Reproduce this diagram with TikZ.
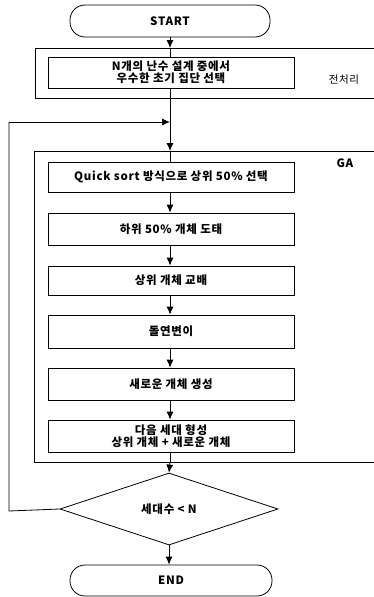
\documentclass[tikz,border=0pt]{standalone}
\usepackage{fontspec}
\setmainfont{Noto Sans CJK KR}
\newfontfamily\kr{Noto Sans CJK KR}[LetterSpace=6]
\usetikzlibrary{arrows.meta,shapes.geometric,calc}
\tikzset{
  every node/.style={font=\kr\fontsize{11.5}{13}\selectfont\bfseries, text=black},
  proc/.style={draw, line width=0.8pt, rectangle, minimum width=246pt, inner sep=0pt, align=center},
  term/.style={draw, line width=0.8pt, rectangle, rounded corners=15pt, inner sep=0pt},
  grp/.style={line width=0.8pt},
  arr/.style={line width=0.8pt, -{Latex[length=8pt,width=7pt]}},
  ln/.style={line width=0.8pt},
}
\begin{document}
\begin{tikzpicture}[x=1pt,y=-1pt]
\useasboundingbox (0,0) rectangle (374,597);
% group boxes (right edges lie outside the picture)
\draw[grp] (376,48) -- (35,48) -- (35,98) -- (376,98);
\draw[grp] (376,151) -- (34,151) -- (34,462) -- (376,462);
\coordinate (pretop) at (170,48);
\coordinate (prebot) at (170,98);
\coordinate (gatop) at (170,151);
\coordinate (gabot) at (170,462);
\coordinate (join) at (170,122);
\coordinate (lb) at (9,511);
\coordinate (lt) at (9,122);
\node[font=\kr\fontsize{10.5}{12}\selectfont] (prelbl) at (344,80) {전처리};
\node (galbl) at (345,163) {GA};

\node[term, minimum width=200pt, minimum height=32pt] (start) at (170,21) {START};
\node[proc, minimum height=31pt] (p0) at (171,72.5) {N개의 난수 설계 중에서\\[-1pt]우수한 초기 집단 선택};
\node[proc, minimum height=30pt] (b1) at (171,177) {Quick sort 방식으로 상위 50\% 선택};
\node[proc, minimum height=32pt] (b2) at (171,229) {하위 50\% 개체 도태};
\node[proc, minimum height=29pt] (b3) at (171,280.5) {상위 개체 교배};
\node[proc, minimum height=33pt] (b4) at (171,331.5) {돌연변이};
\node[proc, minimum height=32pt] (b5) at (171,384) {새로운 개체 생성};
\node[proc, minimum height=32pt] (b6) at (171,436) {다음 세대 형성\\[-1pt]상위 개체 + 새로운 개체};
\node[draw, line width=0.8pt, diamond, inner sep=0pt, minimum width=218pt, minimum height=72pt] (dec) at (169,509) {세대수 < N};
\node[term, minimum width=202pt, minimum height=31pt] (end) at (171,580.5) {END};

\draw[arr] (start.south) -- (pretop);
\draw[ln] (pretop) -- (p0.north -| pretop);
\draw[ln] (p0.south -| pretop) -- (prebot);
\draw[arr] (prebot) -- (gatop);
\draw[ln] (gatop) -- (b1.north -| gatop);
\draw[arr] (b1.south -| gatop) -- (b2.north -| gatop);
\draw[arr] (b2.south -| gatop) -- (b3.north -| gatop);
\draw[arr] (b3.south -| gatop) -- (b4.north -| gatop);
\draw[arr] (b4.south -| gatop) -- (b5.north -| gatop);
\draw[arr] (b5.south -| gatop) -- (b6.north -| gatop);
\draw[ln] (b6.south -| gatop) -- (gabot);
\draw[arr] (gabot) -- (dec.north);
\draw[arr] (dec.south) -- (end.north -| dec.south);
\draw[ln] (dec.west) -- (lb) -- (lt);
\draw[arr] (lt) -- (join);
\end{tikzpicture}
\end{document}
